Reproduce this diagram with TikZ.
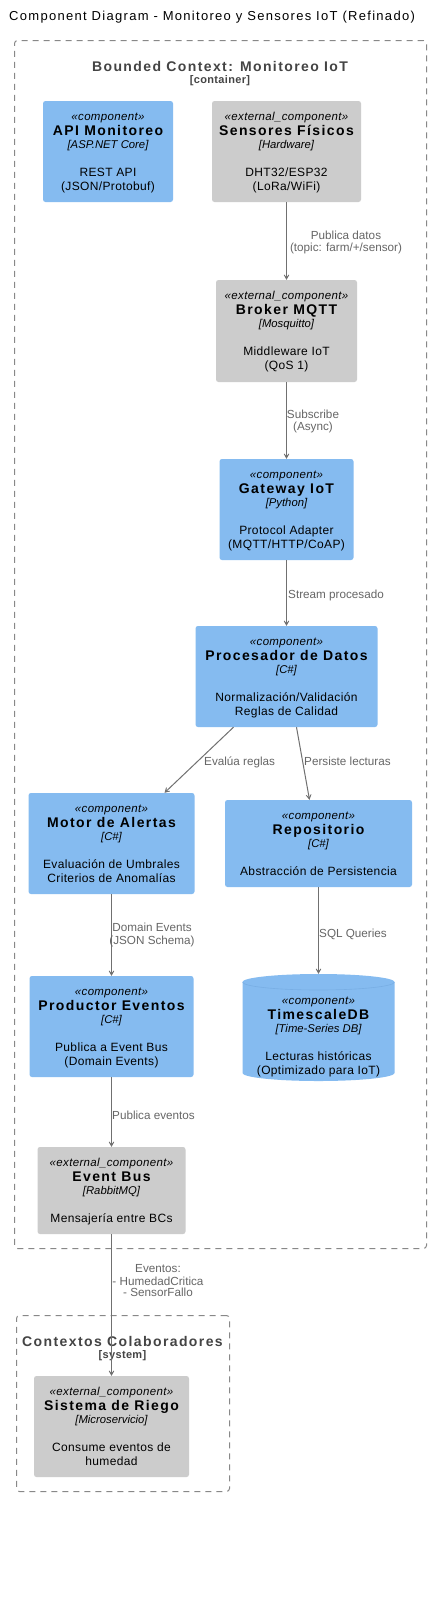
\documentclass[tikz,border=0pt]{standalone}
\usepackage{fontspec}
\setmainfont{Liberation Sans}
\newfontfamily\spacedfont[LetterSpace=10]{Liberation Sans}
\newfontfamily\titlefont[LetterSpace=10]{Liberation Sans}
\newfontfamily\descfont[LetterSpace=3]{Liberation Sans}
\usetikzlibrary{arrows.meta}
\definecolor{compblue}{HTML}{85BBF0}
\definecolor{rimblue}{HTML}{78AEE4}
\definecolor{extgray}{HTML}{CCCCCC}
\definecolor{linegray}{HTML}{707070}
\definecolor{labelgray}{HTML}{666666}
\definecolor{bndgray}{HTML}{444444}
\definecolor{dashgray}{HTML}{888888}
\tikzset{
 box/.style={rectangle, rounded corners=2.5pt, inner sep=0pt},
 compbox/.style={box, fill=compblue},
 extbox/.style={box, fill=extgray},
 stereotxt/.style={anchor=base, inner sep=0pt, font=\descfont\fontsize{11.5}{13}\selectfont\itshape},
 nametxt/.style={anchor=base, inner sep=0pt, font=\spacedfont\fontsize{14}{16}\selectfont\bfseries},
 techtxt/.style={anchor=base, inner sep=0pt, font=\fontsize{11.3}{13}\selectfont\itshape},
 desctxt/.style={anchor=base, inner sep=0pt, font=\descfont\fontsize{12}{14}\selectfont},
 arr/.style={draw=linegray, line width=1pt, -{Stealth[length=8pt,width=9pt,inset=5.5pt]}},
 lbl/.style={anchor=base, inner sep=0pt, text=labelgray, font=\fontsize{11.7}{12}\selectfont},
 bnd/.style={draw=dashgray, line width=1pt, dash pattern=on 6pt off 5pt, rounded corners=3pt, inner sep=0pt},
 bndtitle/.style={anchor=base, inner sep=0pt, text=bndgray, font=\spacedfont\fontsize{14}{16}\selectfont\bfseries},
 bndsub/.style={anchor=base, inner sep=0pt, text=bndgray, font=\descfont\fontsize{11}{13}\selectfont\bfseries},
}
\newcommand\ctext[8]{%
 \node[stereotxt] (#1-s) at (#2,#3+19) {«#4»};
 \node[nametxt] (#1-n) at (#2,#3+34) {#5};
 \node[techtxt] (#1-t) at (#2,#3+47) {[#6]};
 \node[desctxt] (#1-d1) at (#2,#3+75) {#7};
 \if\relax\detokenize{#8}\relax\else\node[desctxt] (#1-d2) at (#2,#3+89) {#8};\fi
}
\begin{document}
\begin{tikzpicture}[x=1pt,y=-1pt]
\useasboundingbox (0,0) rectangle (433,1604);
\fill[white] (0,0) rectangle (433,1604);
\node[anchor=base west, inner sep=0pt, font=\titlefont\fontsize{13}{15}\selectfont] (title) at (9,20) {Component Diagram - Monitoreo y Sensores IoT (Refinado)};

% boundaries
\node[bnd, minimum width=412, minimum height=1208] (bc) at (220.5,644.5) {};
\node[bndtitle] (bc-t) at (220,71) {Bounded Context: Monitoreo IoT};
\node[bndsub] (bc-s) at (220,83.5) {[container]};
\node[bnd, minimum width=213, minimum height=176] (cc) at (123,1403.5) {};
\node[bndtitle] (cc-t) at (122.5,1346) {Contextos Colaboradores};
\node[bndsub] (cc-s) at (122.5,1358.5) {[system]};

% components
\node[compbox, minimum width=130, minimum height=101] (api) at (108,151.5) {};
\ctext{api}{108}{101}{component}{API Monitoreo}{ASP.NET Core}{REST API}{(JSON/Protobuf)}
\node[extbox, minimum width=149, minimum height=101] (sens) at (286.5,151.5) {};
\ctext{sens}{286.5}{101}{external\_component}{Sensores Físicos}{Hardware}{DHT32/ESP32}{(LoRa/WiFi)}
\node[extbox, minimum width=141, minimum height=102] (broker) at (286.5,331) {};
\ctext{broker}{286.5}{280}{external\_component}{Broker MQTT}{Mosquitto}{Middleware IoT}{(QoS 1)}
\node[compbox, minimum width=134, minimum height=101] (gw) at (286.5,509.5) {};
\ctext{gw}{286.5}{459}{component}{Gateway IoT}{Python}{Protocol Adapter}{(MQTT/HTTP/CoAP)}
\node[compbox, minimum width=182, minimum height=101] (proc) at (286.5,676.5) {};
\ctext{proc}{286.5}{626}{component}{Procesador de Datos}{C\#}{Normalización/Validación}{Reglas de Calidad}
\node[compbox, minimum width=166, minimum height=101] (motor) at (111.5,843.5) {};
\ctext{motor}{111.5}{793}{component}{Motor de Alertas}{C\#}{Evaluación de Umbrales}{Criterios de Anomalías}
\node[compbox, minimum width=187, minimum height=87] (repo) at (318.5,843.5) {};
\ctext{repo}{318.5}{800}{component}{Repositorio}{C\#}{Abstracción de Persistencia}{}
\node[compbox, minimum width=164, minimum height=101] (prod) at (111.5,1026.5) {};
\ctext{prod}{111.5}{976}{component}{Productor Eventos}{C\#}{Publica a Event Bus}{(Domain Events)}
% database cylinder
\node[inner sep=0pt, minimum width=152, minimum height=107] (tsdb) at (318.5,1027.5) {};
\fill[compblue] (242.5,982) -- (242.5,1073) arc[start angle=180,end angle=360,x radius=76pt,y radius=8pt] -- (394.5,982) arc[start angle=0,end angle=180,x radius=76pt,y radius=8pt] -- cycle;
\draw[rimblue, line width=0.6pt] (242.5,982) arc[start angle=180,end angle=360,x radius=76pt,y radius=8pt];
\ctext{tsdb}{318.5}{985}{component}{TimescaleDB}{Time-Series DB}{Lecturas históricas}{(Optimizado para IoT)}
\node[extbox, minimum width=148, minimum height=87] (ebus) at (111.5,1190.5) {};
\ctext{ebus}{111.5}{1147}{external\_component}{Event Bus}{RabbitMQ}{Mensajería entre BCs}{}
\node[extbox, minimum width=155, minimum height=101] (riego) at (111.5,1426.5) {};
\ctext{riego}{111.5}{1376}{external\_component}{Sistema de Riego}{Microservicio}{Consume eventos de}{humedad}

% connectors
\draw[arr] (sens) -- (broker);
\draw[arr] (broker) -- (gw);
\draw[arr] (gw) -- (proc);
\draw[arr] ([xshift=-53pt]proc.south) -- ([xshift=53pt]motor.north);
\draw[arr] ([xshift=10pt]proc.south) -- ([xshift=-9pt]repo.north);
\draw[arr] (motor) -- (prod);
\draw[arr] (repo) -- (tsdb);
\draw[arr] (prod) -- (ebus);
\draw[arr] (ebus) -- (riego);

% labels
\node[lbl] (l1a) at (346,239.5) {Publica datos};
\node[lbl] (l1b) at (346,251) {(topic: farm/+/sensor)};
\node[lbl] (l2a) at (313,418.3) {Subscribe};
\node[lbl] (l2b) at (313,430.7) {(Async)};
\node[lbl, anchor=base west] (l3) at (288,598.3) {Stream procesado};
\node[lbl, anchor=base west] (l4) at (204,765) {Evalúa reglas};
\node[lbl, anchor=base west] (l5) at (304,765) {Persiste lecturas};
\node[lbl] (l6a) at (152,931.3) {Domain Events};
\node[lbl] (l6b) at (152,944) {(JSON Schema)};
\node[lbl, anchor=base west] (l7) at (319,937.7) {SQL Queries};
\node[lbl, anchor=base west] (l8) at (112,1119) {Publica eventos};
\node[lbl] (l9a) at (158,1272.7) {Eventos:};
\node[lbl] (l9b) at (158,1285) {- HumedadCritica};
\node[lbl] (l9c) at (158,1296.5) {- SensorFallo};
\end{tikzpicture}
\end{document}
